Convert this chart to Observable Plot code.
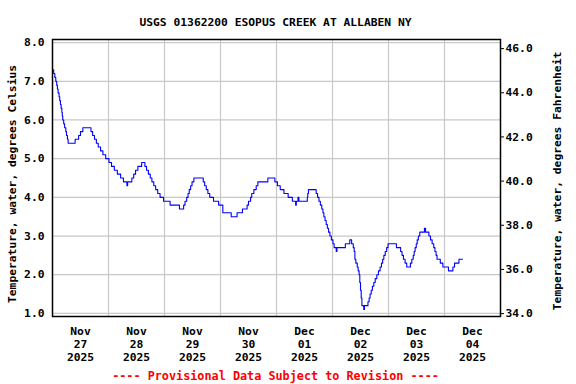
<!DOCTYPE html>
<html>
<head>
<meta charset="utf-8">
<script src="https://cdn.jsdelivr.net/npm/d3@7"></script>
<script src="https://cdn.jsdelivr.net/npm/@observablehq/plot@0.6"></script>
<style>
  html, body { margin: 0; padding: 0; background: #fff; }
</style>
</head>
<body>
<div id="chart"></div>
<script>
const title = "USGS 01362200 ESOPUS CREEK AT ALLABEN NY";
const footer = "---- Provisional Data Subject to Revision ----";
const leftLabel = "Temperature, water, degrees Celsius";
const rightLabel = "Temperature, water, degrees Fahrenheit";

// hours since 2025-11-27 00:00 at which the reading changed, and the reading (deg C)
const hours = [0,0.5,1.0,1.4,1.8,2.1,2.4,2.8,3.1,3.4,3.7,4.0,4.2,4.4,4.8,5.2,5.7,6.0,6.4,6.7,
  9.7,11.2,12.0,13.0,16.5,17.2,18.0,18.8,19.6,20.6,21.6,22.8,24.2,25.3,26.5,27.8,29.2,30.4,31.9,32.2,
  34.0,34.8,35.6,36.6,38.2,39.6,40.3,41.1,41.9,42.6,43.4,44.2,45.1,46.1,47.6,50.4,54.4,56.2,56.8,57.5,
  58.1,58.6,59.2,59.8,60.6,64.6,65.2,65.9,66.6,67.4,69.0,71.2,73.0,76.6,79.1,81.4,83.4,84.0,84.9,85.4,
  86.3,87.3,88.0,92.3,95.3,96.4,97.6,99.2,101.0,102.8,104.2,104.5,105.2,105.6,109.2,109.4,109.7,113.0,113.6,114.2,
  114.8,115.4,115.9,116.3,116.8,117.3,117.8,118.3,118.9,119.5,120.2,120.7,121.6,121.9,125.5,127.4,128.2,128.9,129.3,129.6,
  130.0,130.6,131.0,131.4,131.7,132.0,132.3,132.6,133.4,133.7,135.2,135.7,136.1,136.6,137.1,137.7,138.3,139.0,139.7,140.4,
  141.0,141.5,142.0,142.6,143.2,143.8,147.4,149.2,149.8,150.4,151.1,151.8,153.4,154.0,154.6,155.0,155.4,155.9,156.3,156.8,
  157.4,159.4,159.9,161.3,162.0,162.7,163.4,163.9,164.4,164.8,166.2,167.3,169.7,171.6,172.3,174.2,175.7];
const tempsC = [7.3,7.2,7.1,7.0,6.9,6.8,6.7,6.6,6.5,6.4,6.3,6.2,6.1,6.0,5.9,5.8,5.7,5.6,5.5,5.4,
  5.5,5.6,5.7,5.8,5.7,5.6,5.5,5.4,5.3,5.2,5.1,5.0,4.9,4.8,4.7,4.6,4.5,4.4,4.3,4.4,
  4.5,4.6,4.7,4.8,4.9,4.8,4.7,4.6,4.5,4.4,4.3,4.2,4.1,4.0,3.9,3.8,3.7,3.8,3.9,4.0,
  4.1,4.2,4.3,4.4,4.5,4.4,4.3,4.2,4.1,4.0,3.9,3.8,3.6,3.5,3.6,3.7,3.8,3.9,4.0,4.1,
  4.2,4.3,4.4,4.5,4.4,4.3,4.2,4.1,4.0,3.9,3.8,3.9,4.0,3.9,4.0,4.1,4.2,4.1,4.0,3.9,
  3.8,3.7,3.6,3.5,3.4,3.3,3.2,3.1,3.0,2.9,2.8,2.7,2.6,2.7,2.8,2.9,2.8,2.7,2.6,2.4,
  2.3,2.2,2.1,2.0,1.8,1.6,1.4,1.2,1.1,1.2,1.3,1.4,1.5,1.6,1.7,1.8,1.9,2.0,2.1,2.2,
  2.3,2.4,2.5,2.6,2.7,2.8,2.7,2.6,2.5,2.4,2.3,2.2,2.3,2.4,2.5,2.6,2.7,2.8,2.9,3.0,
  3.1,3.2,3.1,3.0,2.9,2.8,2.7,2.6,2.5,2.4,2.3,2.2,2.1,2.2,2.3,2.4,2.4];

const dayLabels = ["Nov\n27\n2025","Nov\n28\n2025","Nov\n29\n2025","Nov\n30\n2025",
  "Dec\n01\n2025","Dec\n02\n2025","Dec\n03\n2025","Dec\n04\n2025"];
const celsiusTicks = [1,2,3,4,5,6,7,8];
const fahrenheitTicks = [34,36,38,40,42,44,46];

const t0 = Date.UTC(2025, 10, 27);
const H = 3600e3;
const data = hours.map((h, i) => ({date: new Date(t0 + h * H), c: tempsC[i]}));
const midnights = d3.range(0, 9).map(d => new Date(t0 + d * 24 * H));
const noons = dayLabels.map((s, i) => ({date: new Date(t0 + (i * 24 + 12) * H), label: s}));

// right axis (Fahrenheit) is drawn on the Celsius scale via this linear relation
const fToC = f => 0.995 + (f - 34) * 0.5708;
const cToF = c => 34 + (c - 0.995) / 0.5708;

const font = "'DejaVu Sans Mono', monospace";

const chart = Plot.plot({
  width: 576,
  height: 384,
  marginLeft: 52,
  marginRight: 76,
  marginTop: 39,
  marginBottom: 68,
  style: {fontFamily: font, fontWeight: "bold", fontSize: "11.3px", background: "#fff", color: "#000"},
  x: {type: "utc", domain: [midnights[0], midnights[8]], axis: null},
  y: {domain: [0.92, 8.08], axis: null},
  marks: [
    Plot.ruleX(midnights.slice(1, 8), {stroke: "#c8c8c8", strokeWidth: 1.2}),
    Plot.ruleY(celsiusTicks, {stroke: "#c8c8c8", strokeWidth: 1.2}),
    Plot.line(data, {x: "date", y: "c", curve: "step-after", stroke: "#0000ff", strokeWidth: 1.1}),
    Plot.frame({stroke: "#000", strokeWidth: 1.5}),
    Plot.axisY(celsiusTicks, {anchor: "left", tickSize: 0, tickPadding: 8, tickFormat: d => d.toFixed(1), fontSize: 11.3, fontWeight: "bold", label: null}),
    Plot.axisY(fahrenheitTicks.map(fToC), {anchor: "right", tickSize: 3, tickPadding: 2, tickFormat: c => cToF(c).toFixed(1), fontSize: 11.3, fontWeight: "bold", label: null}),
    Plot.text(noons, {x: "date", text: "label", frameAnchor: "bottom", lineAnchor: "top", dy: 9, lineHeight: 1.15, fontSize: 11.3, fontWeight: "bold"}),
    Plot.text([title], {frameAnchor: "top", lineAnchor: "bottom", dy: -14, dx: -1, fontSize: 11.3, fontWeight: "bold"}),
    Plot.text([footer], {frameAnchor: "bottom", lineAnchor: "bottom", dy: 63, dx: -1, fontSize: 11.8, fontWeight: "bold", fill: "#ff0000"}),
    Plot.text([leftLabel], {frameAnchor: "left", textAnchor: "middle", lineAnchor: "middle", rotate: -90, dx: -40, dy: 6, fontSize: 11.3, fontWeight: "bold"}),
    Plot.text([rightLabel], {frameAnchor: "right", textAnchor: "middle", lineAnchor: "middle", rotate: -90, dx: 57, dy: 3, fontSize: 11.3, fontWeight: "bold"})
  ]
});
document.getElementById("chart").appendChild(chart);
</script>
</body>
</html>
